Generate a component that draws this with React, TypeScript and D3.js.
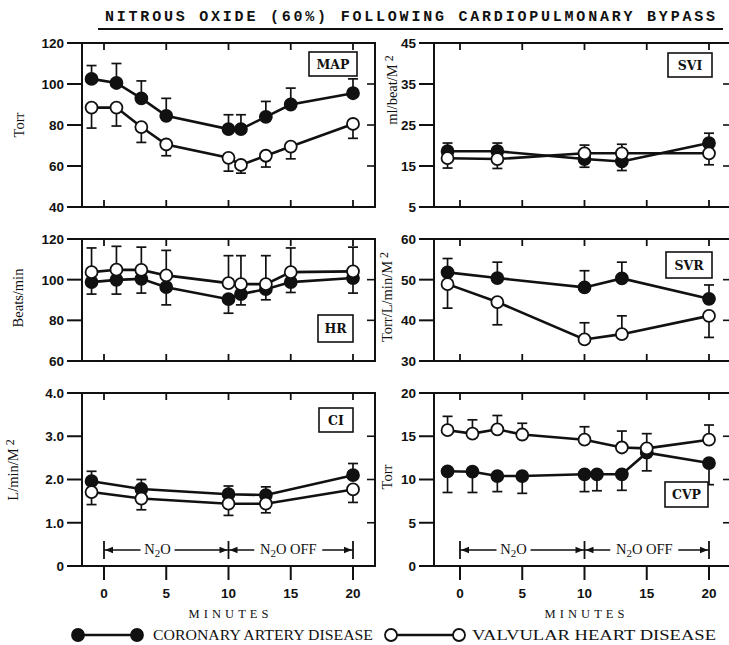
import React from 'react';
import * as d3 from 'd3';

// ---------- data ----------
const titleText = 'NITROUS OXIDE (60%) FOLLOWING CARDIOPULMONARY BYPASS';
const seriesNames = ['CORONARY ARTERY DISEASE', 'VALVULAR HEART DISEASE'];
const minuteTicks = [0, 5, 10, 15, 20];
const xAxisTitle = 'MINUTES';

const timesFull = [-1, 1, 3, 5, 10, 11, 13, 15, 20];
const timesShort = [-1, 3, 10, 13, 20];
const timesCvpVHD = [-1, 1, 3, 5, 10, 13, 15, 20];

// MAP (Torr)
const mapTicks = [40, 60, 80, 100, 120];
const mapCAD = [102.5, 100.5, 93, 84.5, 78, 78, 84, 90, 95.5];
const mapCADErr = [109, 110, 101.5, 93, 85, 85, 91.5, 98, 102.5];
const mapVHD = [88.5, 88.5, 79, 70.5, 64, 60.5, 65, 69.5, 80.5];
const mapVHDErr = [78.5, 79.5, 71.5, 65, 57.5, 56.5, 59.5, 63.5, 73.5];

// SVI (ml/beat/M2)
const sviTicks = [5, 15, 25, 35, 45];
const sviCAD = [18.6, 18.6, 16.7, 16.1, 20.6];
const sviCADErr = [20.6, 20.6, 14.7, 13.9, 23];
const sviVHD = [16.9, 16.7, 18.1, 18.1, 18.1];
const sviVHDErr = [14.5, 14.4, 20.1, 20.3, 15.3];

// HR (beats/min)
const hrTicks = [60, 80, 100, 120];
const hrCAD = [98.8, 99.9, 100.4, 96.3, 90.4, 92.9, 95.3, 98.8, 100.8];
const hrCADErr = [92.9, 92.9, 93.4, 87.6, 83.5, 87.6, 90.1, 93.7, 93.4];
const hrVHD = [103.7, 104.9, 104.8, 102.1, 98.3, 97.8, 97.8, 103.7, 104.1];
const hrVHDErr = [115.6, 116.4, 116, 114.4, 111.8, 111.8, 111.8, 115.6, 116];

// SVR (Torr/L/min/M2)
const svrTicks = [30, 40, 50, 60];
const svrCAD = [51.8, 50.4, 48.1, 50.3, 45.3];
const svrCADErr = [55.2, 54.3, 52.2, 54.3, 48.7];
const svrVHD = [48.9, 44.5, 35.3, 36.6, 41.1];
const svrVHDErr = [43.0, 38.9, 39.4, 41.1, 35.8];

// CI (L/min/M2)
const ciTicks = [0, 1, 2, 3, 4];
const ciTickLabels = ['0', '1.0', '2.0', '3.0', '4.0'];
const ciCAD = [1.96, 1.78, 1.66, 1.64, 2.1];
const ciCADErr = [2.19, 2.0, 1.85, 1.83, 2.37];
const ciVHD = [1.71, 1.56, 1.44, 1.44, 1.77];
const ciVHDErr = [1.42, 1.3, 1.17, 1.23, 1.47];

// CVP (Torr)
const cvpTicks = [0, 5, 10, 15, 20];
const cvpCAD = [10.95, 10.9, 10.4, 10.4, 10.6, 10.6, 10.6, 13.1, 11.9];
const cvpCADErr = [8.5, 8.5, 8.6, 8.4, 8.6, 8.7, 8.75, 11.0, 9.4];
const cvpVHD = [15.7, 15.3, 15.8, 15.2, 14.6, 13.7, 13.6, 14.6];
const cvpVHDErr = [17.3, 16.9, 17.4, 16.5, 16.1, 15.6, 15.3, 16.3];

// ---------- layout ----------
const W = 729;
const H = 645;
const cols = [
  { x0: 82, x1: 375, r0: 104, r20: 353 },
  { x0: 434, x1: 731, r0: 460, r20: 709 },
];
const rows = [
  { y0: 43, y1: 207 },
  { y0: 239, y1: 361 },
  { y0: 393, y1: 566 },
];

type Series = { times: number[]; values: number[]; errs: number[]; filled: boolean };
type Panel = {
  col: number;
  row: number;
  domain: [number, number];
  ticks: number[];
  tickLabels?: string[];
  label: string;
  box: { x: number; y: number; w: number; h: number };
  yTitle: string;
  sup?: boolean;
  titlePos: [number, number];
  series: Series[];
};

const panels: Panel[] = [
  {
    col: 0, row: 0, domain: [40, 120], ticks: mapTicks, label: 'MAP',
    box: { x: 309, y: 52, w: 48, h: 24 }, yTitle: 'Torr', titlePos: [19, 125],
    series: [
      { times: timesFull, values: mapCAD, errs: mapCADErr, filled: true },
      { times: timesFull, values: mapVHD, errs: mapVHDErr, filled: false },
    ],
  },
  {
    col: 1, row: 0, domain: [5, 45], ticks: sviTicks, label: 'SVI',
    box: { x: 668, y: 53, w: 44, h: 24 }, yTitle: 'ml/beat/M', sup: true, titlePos: [392, 90],
    series: [
      { times: timesShort, values: sviCAD, errs: sviCADErr, filled: true },
      { times: timesShort, values: sviVHD, errs: sviVHDErr, filled: false },
    ],
  },
  {
    col: 0, row: 1, domain: [60, 120], ticks: hrTicks, label: 'HR',
    box: { x: 318, y: 315, w: 35, h: 27 }, yTitle: 'Beats/min', titlePos: [18, 298],
    series: [
      { times: timesFull, values: hrCAD, errs: hrCADErr, filled: true },
      { times: timesFull, values: hrVHD, errs: hrVHDErr, filled: false },
    ],
  },
  {
    col: 1, row: 1, domain: [30, 60], ticks: svrTicks, label: 'SVR',
    box: { x: 666, y: 252, w: 46, h: 26 }, yTitle: 'Torr/L/min/M', sup: true, titlePos: [387, 297],
    series: [
      { times: timesShort, values: svrCAD, errs: svrCADErr, filled: true },
      { times: timesShort, values: svrVHD, errs: svrVHDErr, filled: false },
    ],
  },
  {
    col: 0, row: 2, domain: [0, 4], ticks: ciTicks, tickLabels: ciTickLabels, label: 'CI',
    box: { x: 319, y: 408, w: 34, h: 24 }, yTitle: 'L/min/M', sup: true, titlePos: [13, 470],
    series: [
      { times: timesShort, values: ciCAD, errs: ciCADErr, filled: true },
      { times: timesShort, values: ciVHD, errs: ciVHDErr, filled: false },
    ],
  },
  {
    col: 1, row: 2, domain: [0, 20], ticks: cvpTicks, label: 'CVP',
    box: { x: 665, y: 482, w: 43, h: 25 }, yTitle: 'Torr', titlePos: [387, 477],
    series: [
      { times: timesFull, values: cvpCAD, errs: cvpCADErr, filled: true },
      { times: timesCvpVHD, values: cvpVHD, errs: cvpVHDErr, filled: false },
    ],
  },
];

const INK = '#111';
const SANS = '"Liberation Sans", Arial, sans-serif';
const SERIF = '"Liberation Serif", "DejaVu Serif", serif';
const DSERIF = '"DejaVu Serif", serif';
const MONO = '"Liberation Mono", "DejaVu Sans Mono", monospace';
const R = 6;

function Arrow({ x, y, dir }: { x: number; y: number; dir: number }) {
  const L = 8, hw = 3.2;
  return <path d={`M${x},${y} L${x - dir * L},${y - hw} L${x - dir * L},${y + hw} Z`} fill={INK} />;
}

function N2OText({ x, y, off }: { x: number; y: number; off?: boolean }) {
  return (
    <text x={x} y={y} textAnchor="middle" fontFamily={SERIF} fontSize={14.5} fill={INK}>
      N<tspan fontSize={11} dy={3}>2</tspan><tspan dy={-3}>O{off ? ' OFF' : ''}</tspan>
    </text>
  );
}

function PanelView({ p }: { p: Panel }) {
  const c = cols[p.col];
  const r = rows[p.row];
  const x = d3.scaleLinear().domain([0, 20]).range([c.r0, c.r20]);
  const y = d3.scaleLinear().domain(p.domain).range([r.y1, r.y0]);
  const line = d3.line<[number, number]>().x((d) => x(d[0])).y((d) => y(d[1]));
  const isBottom = p.row === 2;
  const fmt = (v: number, i: number) => (p.tickLabels ? p.tickLabels[i] : String(v));

  const annY = 550;
  return (
    <g>
      <rect x={c.x0} y={r.y0} width={c.x1 - c.x0} height={r.y1 - r.y0} fill="none" stroke={INK} strokeWidth={2} />
      {p.ticks.map((t, i) => (
        <g key={'yt' + i}>
          <line x1={c.x0 - 15} x2={c.x0} y1={y(t)} y2={y(t)} stroke={INK} strokeWidth={2} />
          <line x1={c.x1 - 8} x2={c.x1} y1={y(t)} y2={y(t)} stroke={INK} strokeWidth={1.6} />
          <text x={c.x0 - 18} y={y(t)} dy="0.36em" textAnchor="end" fontFamily={SANS} fontWeight="bold" fontSize={13.5} fill={INK}>
            {fmt(t, i)}
          </text>
        </g>
      ))}
      {minuteTicks.map((t) => (
        <g key={'xt' + t}>
          <line x1={x(t)} x2={x(t)} y1={r.y0} y2={r.y0 + 7} stroke={INK} strokeWidth={1.8} />
          {isBottom ? (
            <>
              <line x1={x(t)} x2={x(t)} y1={r.y1} y2={r.y1 + 14} stroke={INK} strokeWidth={2} />
              <text x={x(t)} y={598} textAnchor="middle" fontFamily={SANS} fontWeight="bold" fontSize={13.5} fill={INK}>{t}</text>
            </>
          ) : (
            <line x1={x(t)} x2={x(t)} y1={r.y1} y2={r.y1 - 7} stroke={INK} strokeWidth={1.8} />
          )}
        </g>
      ))}
      <text
        transform={`translate(${p.titlePos[0]},${p.titlePos[1]}) rotate(-90)`}
        textAnchor="middle"
        dominantBaseline="central"
        fontFamily={SERIF}
        fontSize={14.5}
        fill={INK}
      >
        {p.yTitle}
        {p.sup ? <tspan fontSize={12} dx={3} dy={-3}>2</tspan> : null}
      </text>
      {p.series.map((s, si) => (
        <path key={'l' + si} d={line(s.times.map((t, i) => [t, s.values[i]] as [number, number])) || ''} fill="none" stroke={INK} strokeWidth={2.6} />
      ))}
      {p.series.map((s, si) => (
        <g key={'e' + si}>
          {s.times.map((t, i) => (
            <g key={i}>
              <line x1={x(t)} x2={x(t)} y1={y(s.values[i])} y2={y(s.errs[i])} stroke={INK} strokeWidth={1.7} />
              <line x1={x(t) - 5} x2={x(t) + 5} y1={y(s.errs[i])} y2={y(s.errs[i])} stroke={INK} strokeWidth={1.7} />
            </g>
          ))}
        </g>
      ))}
      {p.series.map((s, si) => (
        <g key={'m' + si}>
          {s.times.map((t, i) => (
            <circle key={i} cx={x(t)} cy={y(s.values[i])} r={R} fill={s.filled ? INK : '#fff'} stroke={INK} strokeWidth={1.8} />
          ))}
        </g>
      ))}
      <rect x={p.box.x} y={p.box.y} width={p.box.w} height={p.box.h} fill="#fff" stroke={INK} strokeWidth={1.6} />
      <text x={p.box.x + p.box.w / 2} y={p.box.y + p.box.h / 2} dy="0.36em" textAnchor="middle" fontFamily={DSERIF} fontWeight="bold" fontSize={12.5} fill={INK}>
        {p.label}
      </text>
      {isBottom ? (
        <g>
          {[0, 10, 20].map((t) => (
            <line key={'b' + t} x1={x(t)} x2={x(t)} y1={annY - 9} y2={annY + 9} stroke={INK} strokeWidth={1.8} />
          ))}
          <line x1={x(0)} x2={x(4.3) - 17} y1={annY} y2={annY} stroke={INK} strokeWidth={1.5} />
          <line x1={x(4.3) + 17} x2={x(10)} y1={annY} y2={annY} stroke={INK} strokeWidth={1.5} />
          <line x1={x(10)} x2={x(14.8) - 34} y1={annY} y2={annY} stroke={INK} strokeWidth={1.5} />
          <line x1={x(14.8) + 34} x2={x(20)} y1={annY} y2={annY} stroke={INK} strokeWidth={1.5} />
          <Arrow x={x(0) + 1} y={annY} dir={-1} />
          <Arrow x={x(10) - 1} y={annY} dir={1} />
          <Arrow x={x(10) + 1} y={annY} dir={-1} />
          <Arrow x={x(20) - 1} y={annY} dir={1} />
          <N2OText x={x(4.3)} y={annY + 4} />
          <N2OText x={x(14.8)} y={annY + 4} off />
          <text x={x(10)} y={618} textAnchor="middle" fontFamily={SERIF} fontSize={12.5} textLength={80} lengthAdjust="spacing" fill={INK}>
            {xAxisTitle}
          </text>
        </g>
      ) : null}
    </g>
  );
}

export default function App() {
  return (
    <svg width={W} height={H} viewBox={`0 0 ${W} ${H}`} style={{ position: 'absolute', left: 0, top: 0, background: '#fff' }}>
      <rect x={0} y={0} width={W} height={H} fill="#fff" />
      <text x={105} y={21} fontFamily={MONO} fontWeight="bold" fontSize={15} textLength={610} lengthAdjust="spacing" fill={INK}>
        {titleText}
      </text>
      <line x1={98} x2={723} y1={29} y2={29} stroke={INK} strokeWidth={2} />
      {panels.map((p, i) => (
        <PanelView key={i} p={p} />
      ))}
      <line x1={78} x2={137} y1={635} y2={635} stroke={INK} strokeWidth={2.6} />
      <circle cx={78} cy={635} r={R} fill={INK} stroke={INK} strokeWidth={1.8} />
      <circle cx={137} cy={635} r={R} fill={INK} stroke={INK} strokeWidth={1.8} />
      <text x={153} y={640} fontFamily={SERIF} fontSize={14.5} textLength={220} lengthAdjust="spacingAndGlyphs" fill={INK}>
        {seriesNames[0]}
      </text>
      <line x1={391} x2={459} y1={635} y2={635} stroke={INK} strokeWidth={2.6} />
      <circle cx={391} cy={635} r={R} fill="#fff" stroke={INK} strokeWidth={1.8} />
      <circle cx={459} cy={635} r={R} fill="#fff" stroke={INK} strokeWidth={1.8} />
      <text x={472} y={640} fontFamily={SERIF} fontSize={14.5} textLength={244} lengthAdjust="spacingAndGlyphs" fill={INK}>
        {seriesNames[1]}
      </text>
    </svg>
  );
}
